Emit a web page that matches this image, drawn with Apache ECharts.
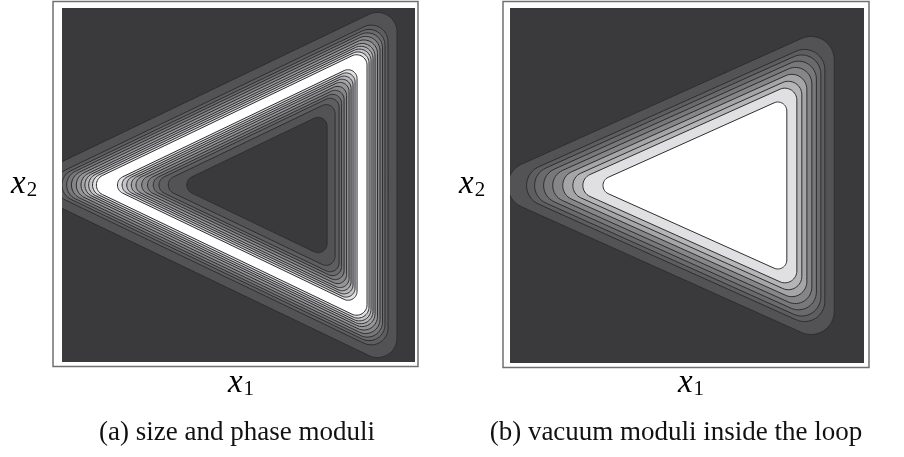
<!DOCTYPE html>
<html><head><meta charset="utf-8">
<script src="https://cdn.jsdelivr.net/npm/echarts@6/dist/echarts.min.js"></script>
<style>html,body{margin:0;padding:0;background:#fff}#c{width:904px;height:457px}</style>
</head><body><div id="c"></div>
<script>
// Loop (triangle) vertices in axis units [x1, x2]
const loopA = [[9.1, 50], [85.0, 86.3], [85.0, 13.7]];
const loopB = [[22.6, 50], [78.2, 74.9], [78.2, 25.1]];
// Contour offsets from the loop (axis units, + = outward) and grey level inside each contour
const offsetsA = [9.9, 7.36, 6.5, 5.8, 5.09, 4.38, 3.68, 3.11, 2.55, 1.98, 1.41, -1.41, -1.98, -2.55, -3.11, -3.68, -4.38, -5.09, -5.8, -6.5, -7.64, -9.9];
const levelsA  = [1, 2, 3, 4, 5, 6, 7, 8, 9, 10, 11, 10, 9, 8, 7, 6, 5, 4, 3, 2, 1, 0];
const offsetsB = [13.4, 10.75, 9.62, 8.35, 7.07, 5.66, 4.24, 2.83, 0];
const levelsB  = [1, 2, 3, 4, 5, 7, 8, 10, 11];
const greys = ['#3a3a3c', '#535355', '#5e5e60', '#6a6a6c', '#78787a', '#868688', '#959597', '#a5a5a7', '#b5b5b7', '#c6c6c8', '#e0e0e2', '#ffffff'];
const axisLabels = ['x', '1', '2'];
const captions = ['(a) size and phase moduli', '(b) vacuum moduli inside the loop'];

function contourPoly(P, d, r) {
  const n = P.length, V = [];
  function geo(Q, i) {
    const C = Q[i], A = Q[(i + n - 1) % n], B = Q[(i + 1) % n];
    let ux = A[0] - C[0], uy = A[1] - C[1]; const lu = Math.hypot(ux, uy); ux /= lu; uy /= lu;
    let wx = B[0] - C[0], wy = B[1] - C[1]; const lw = Math.hypot(wx, wy); wx /= lw; wy /= lw;
    let bx = ux + wx, by = uy + wy; const lb = Math.hypot(bx, by); bx /= lb; by /= lb;
    const half = Math.acos(Math.max(-1, Math.min(1, ux * wx + uy * wy))) / 2;
    return {C, ux, uy, wx, wy, bx, by, half, lu, lw};
  }
  for (let i = 0; i < n; i++) {
    const g = geo(P, i);
    const m = d / Math.sin(g.half);
    V.push([g.C[0] - g.bx * m, g.C[1] - g.by * m]);
  }
  const pts = [];
  for (let i = 0; i < n; i++) {
    const g = geo(V, i);
    let t = r / Math.tan(g.half);
    const tmax = Math.min(g.lu, g.lw) * 0.45;
    let rr = r;
    if (t > tmax) { t = tmax; rr = t * Math.tan(g.half); }
    const oc = rr / Math.sin(g.half);
    const ox = g.C[0] + g.bx * oc, oy = g.C[1] + g.by * oc;
    const t1 = [g.C[0] + g.ux * t, g.C[1] + g.uy * t];
    const t2 = [g.C[0] + g.wx * t, g.C[1] + g.wy * t];
    const a1 = Math.atan2(t1[1] - oy, t1[0] - ox);
    let a2 = Math.atan2(t2[1] - oy, t2[0] - ox);
    let da = a2 - a1;
    while (da > Math.PI) da -= 2 * Math.PI;
    while (da < -Math.PI) da += 2 * Math.PI;
    const K = 16;
    for (let k = 0; k <= K; k++) {
      const a = a1 + da * k / K;
      pts.push([ox + rr * Math.cos(a), oy + rr * Math.sin(a)]);
    }
  }
  return pts;
}

function makeRender(loop, r0, kr) {
  return function (params, api) {
    const off = api.value(0), lvl = api.value(1);
    const P = loop.map(p => api.coord(p));
    const sx = api.coord([1, 0])[0] - api.coord([0, 0])[0];
    const dpx = off * sx;
    const r = r0 + kr * Math.max(dpx, 0);
    const cs = params.coordSys;
    return {
      type: 'polygon',
      z2: params.dataIndex,
      shape: {points: contourPoly(P, dpx, r)},
      style: {fill: greys[lvl], stroke: '#2e2e30', lineWidth: 1},
      clipPath: {type: 'rect', shape: {x: cs.x, y: cs.y, width: cs.width, height: cs.height}}
    };
  };
}

const chart = echarts.init(document.getElementById('c'), null, {renderer: 'canvas'});
const hiddenAxis = (gi) => ({gridIndex: gi, type: 'value', min: 0, max: 100, show: false});
const rich = {
  i: {fontFamily: 'Liberation Serif', fontStyle: 'italic', fontSize: 33, color: '#111'},
  s: {fontFamily: 'Liberation Serif', fontSize: 21, color: '#111', padding: [13, 0, 0, 1]}
};
function mathLabel(x, y, sub, align) {
  return {type: 'text', x: x, y: y, style: {text: '{i|' + axisLabels[0] + '}{s|' + sub + '}', rich: rich, align: align, verticalAlign: 'middle'}};
}
chart.setOption({
  animation: false,
  backgroundColor: '#ffffff',
  grid: [
    {left: 62, top: 8, width: 353, height: 354, show: true, backgroundColor: greys[0], borderWidth: 0},
    {left: 510, top: 8, width: 354, height: 355, show: true, backgroundColor: greys[0], borderWidth: 0}
  ],
  xAxis: [hiddenAxis(0), hiddenAxis(1)],
  yAxis: [hiddenAxis(0), hiddenAxis(1)],
  series: [
    {type: 'custom', xAxisIndex: 0, yAxisIndex: 0, renderItem: makeRender(loopA, 9, 0.3),
     data: offsetsA.map((o, i) => [o, levelsA[i]]), encode: {x: -1, y: -1}, silent: true},
    {type: 'custom', xAxisIndex: 1, yAxisIndex: 1, renderItem: makeRender(loopB, 9, 0.3),
     data: offsetsB.map((o, i) => [o, levelsB[i]]), encode: {x: -1, y: -1}, silent: true}
  ],
  graphic: [
    {type: 'rect', shape: {x: 53, y: 1.5, width: 365, height: 365}, style: {fill: 'none', stroke: '#707070', lineWidth: 1.5}},
    {type: 'rect', shape: {x: 503, y: 1.5, width: 366, height: 366}, style: {fill: 'none', stroke: '#707070', lineWidth: 1.5}},
    mathLabel(11, 184, axisLabels[2], 'left'),
    mathLabel(241, 383, axisLabels[1], 'center'),
    mathLabel(459, 184, axisLabels[2], 'left'),
    mathLabel(691, 383, axisLabels[1], 'center'),
    {type: 'text', x: 237, y: 433, style: {text: captions[0], fontFamily: 'Liberation Serif', fontSize: 27, fill: '#111', align: 'center', verticalAlign: 'middle'}},
    {type: 'text', x: 676, y: 433, style: {text: captions[1], fontFamily: 'Liberation Serif', fontSize: 27, fill: '#111', align: 'center', verticalAlign: 'middle'}}
  ]
});
</script></body></html>
